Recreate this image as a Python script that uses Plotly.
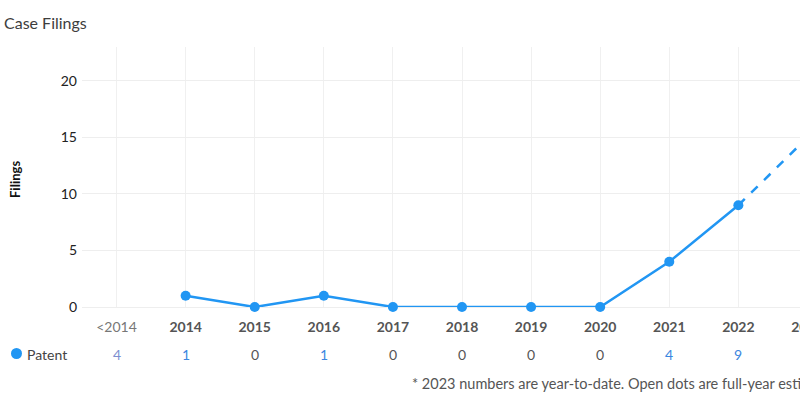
import plotly.graph_objects as go

# ---- data ----
categories = ["<2014", "2014", "2015", "2016", "2017", "2018", "2019", "2020", "2021", "2022", "2023"]
patent_counts = [4, 1, 0, 1, 0, 0, 0, 0, 4, 9, 10]      # table row (2023 = year-to-date)
plot_years_idx = [1, 2, 3, 4, 5, 6, 7, 8, 9]             # points drawn as solid line
plot_values = [1, 0, 1, 0, 0, 0, 0, 4, 9]
estimate_idx = [9, 10]                                    # dashed full-year estimate
estimate_values = [9, 15]
y_ticks = [0, 5, 10, 15, 20]

BLUE = "#2196F3"
FONT = "Lato, 'Open Sans', sans-serif"

W, H = 850, 398
ML, MR, MT, MB = 82, 8, 47, 91
pw = W - ML - MR
ph = H - MT - MB

def px_x(px):
    return (px - ML) / pw

def px_y(py):
    return (H - MB - py) / ph

fig = go.Figure()

fig.add_trace(go.Scatter(
    x=plot_years_idx, y=plot_values, mode="lines+markers",
    line=dict(color=BLUE, width=2.5), marker=dict(color=BLUE, size=10),
    cliponaxis=False, showlegend=False, hoverinfo="skip"))

fig.add_trace(go.Scatter(
    x=estimate_idx, y=estimate_values, mode="lines",
    line=dict(color=BLUE, width=2.5, dash="dash"),
    cliponaxis=False, showlegend=False, hoverinfo="skip"))

fig.add_trace(go.Scatter(
    x=estimate_idx[1:], y=estimate_values[1:], mode="markers",
    marker=dict(color="white", size=10, line=dict(color=BLUE, width=2)),
    cliponaxis=False, showlegend=False, hoverinfo="skip"))

ticktext = []
for c in categories:
    if c.startswith("<"):
        ticktext.append("<span style='color:#777'>&lt;2014</span>")
    else:
        ticktext.append("<b>%s</b>" % c)

fig.update_xaxes(
    range=[-0.5, len(categories) - 0.5],
    tickmode="array", tickvals=list(range(len(categories))), ticktext=ticktext,
    tickfont=dict(family=FONT, size=14, color="#555"),
    showgrid=True, gridcolor="#f0f0f0", gridwidth=1,
    zeroline=False, showline=False, ticks="", ticklabelstandoff=10,
    fixedrange=True)

fig.update_yaxes(
    range=[0, 23], tickmode="array", tickvals=y_ticks,
    tickfont=dict(family=FONT, size=14, color="#222"),
    showgrid=True, gridcolor="#eeeeee", gridwidth=1,
    zeroline=True, zerolinecolor="#eeeeee", zerolinewidth=1,
    showline=False, ticks="", ticklabelstandoff=4, fixedrange=True)

annotations = []
# y-axis title
annotations.append(dict(
    text="<b>Filings</b>", xref="paper", yref="paper", x=px_x(15), y=px_y(180),
    textangle=-90, showarrow=False, font=dict(family=FONT, size=13, color="#111"),
    xanchor="center", yanchor="middle"))

# table row
for i, v in enumerate(patent_counts):
    if i == 0:
        col = "#7d8fd0"
    elif v > 0:
        col = "#3b86e0"
    else:
        col = "#555"
    annotations.append(dict(
        text=str(v), xref="x", yref="paper", x=i, y=px_y(354),
        showarrow=False, font=dict(family=FONT, size=14, color=col),
        xanchor="center", yanchor="middle"))

# legend label
annotations.append(dict(
    text="Patent", xref="paper", yref="paper", x=px_x(25), y=px_y(354),
    showarrow=False, font=dict(family=FONT, size=14, color="#444"),
    xanchor="left", yanchor="middle"))

# footnote
annotations.append(dict(
    text="* 2023 numbers are year-to-date. Open dots are full-year estimates.",
    xref="paper", yref="paper", x=px_x(410), y=px_y(383),
    showarrow=False, font=dict(family=FONT, size=14.5, color="#555"),
    xanchor="left", yanchor="middle"))

shapes = [dict(
    type="circle", xref="paper", yref="paper",
    x0=px_x(11), x1=px_x(22), y0=px_y(359), y1=px_y(348),
    fillcolor=BLUE, line=dict(color=BLUE, width=0))]

fig.update_layout(
    width=W, height=H, autosize=False,
    margin=dict(l=ML, r=MR, t=MT, b=MB, pad=0),
    paper_bgcolor="white", plot_bgcolor="white",
    title=dict(text="Case Filings", xref="container", yref="container",
               x=4 / W, y=1 - 23 / H, xanchor="left", yanchor="middle",
               font=dict(family=FONT, size=16, color="#3d3d3d")),
    annotations=annotations, shapes=shapes,
    showlegend=False, hovermode=False,
    font=dict(family=FONT))

fig.write_html("out.html", config={"displayModeBar": False},
               post_script="document.body.style.margin='0';document.body.style.overflow='hidden';")
